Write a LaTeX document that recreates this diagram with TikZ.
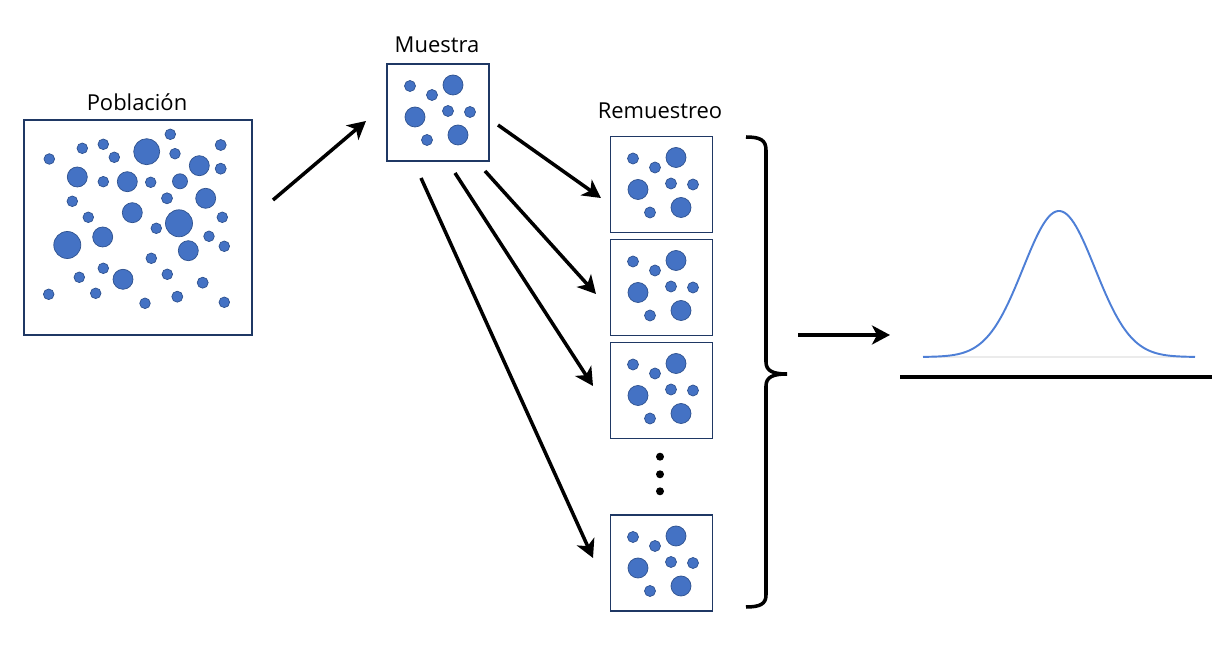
\documentclass[tikz,border=0pt]{standalone}
\usepackage{fontspec}
\setmainfont{Open Sans}
\usetikzlibrary{arrows.meta}

\definecolor{dotblue}{HTML}{4472C4}
\definecolor{dotedge}{HTML}{2F528F}
\definecolor{boxedge}{HTML}{1F3864}
\definecolor{bellblue}{HTML}{4E7FD6}

\tikzset{
  box/.style={draw=boxedge, line width=0.6pt, fill=white, inner sep=0pt},
  dot/.style={fill=dotblue, draw=dotedge, line width=0.4pt},
  label/.style={font=\fontsize{12.5}{14}\selectfont},
  arr/.style={line width=2pt, -{Stealth[length=0.36cm,width=0.38cm,inset=0.1cm]}}
}

\begin{document}
\begin{tikzpicture}[x=0.02cm, y=-0.02cm]
  \useasboundingbox (0,0) rectangle (1232,651);

  % Poblacion
  \node[box, minimum width=4.56cm, minimum height=4.3cm] (pop) at (138,227.5) {};
  \node[label] (poplabel) at (137,102) {Población};
  \foreach \cx/\cy/\r in {49.3/159/5.3, 82.3/148.3/5.3, 103.3/144.3/5.3, 114.3/157.3/5.3,
      146.7/151.7/13, 170.3/134.3/5.3, 175/153.7/5.3, 220.7/145/5.5, 199.3/165.7/10,
      220.7/168.7/5.5, 77.3/177/10, 103.3/181.7/5.3, 127.3/181.7/10, 150.7/182.3/5.3,
      180/181.3/7.5, 205.7/198.3/10, 72.3/201.3/5.3, 167/198.3/5.5, 132.3/212.7/10,
      88.3/217.3/5.3, 179/223.3/13.5, 222.3/217.3/5.3, 156.3/228.3/5.3, 102.7/237/10,
      67.3/245/13.5, 209/236.3/5.3, 224.3/246.3/5.3, 188.3/250.7/10, 151.3/258.3/5.3,
      103.3/268.3/5.3, 79.3/277.3/5.3, 123/279.3/10, 167.3/274.3/5.3, 202.7/282.7/5.5,
      48.7/294.3/5.3, 95.7/293.3/5.3, 145/303.3/5.3, 177.3/296.7/5.5, 224.3/302.3/5.3}
    \filldraw[dot] (\cx,\cy) circle (\r);

  % Muestra y remuestreos
  \node[box, minimum width=2.04cm, minimum height=1.94cm] (mue) at (438,112.5) {};
  \node[label] (muelabel) at (437,45) {Muestra};
  \node[box, minimum width=2.04cm, minimum height=1.92cm] (rem1) at (661.5,184.5) {};
  \node[box, minimum width=2.04cm, minimum height=1.92cm] (rem2) at (661.5,287.5) {};
  \node[box, minimum width=2.04cm, minimum height=1.92cm] (rem3) at (661.5,390.5) {};
  \node[box, minimum width=2.04cm, minimum height=1.92cm] (rem4) at (661.5,563) {};
  \node[label] (remlabel) at (660,111) {Remuestreo};
  \foreach \bx/\by in {387/64, 610/136.5, 610/239.5, 610/342.5, 610/515}
    \foreach \cx/\cy/\r in {23/22/5.5, 45/31/5.5, 66/21/10, 28/53/10,
        61/47/5.5, 83/48/5.5, 40/76/5.5, 71/71/10}
      \filldraw[dot] (\bx+\cx,\by+\cy) circle (\r);

  % puntos suspensivos
  \fill (660,456.7) circle (4);
  \fill (660,474.3) circle (4);
  \fill (660,491.3) circle (4);

  % flechas
  \coordinate (a0s) at (273,200);  \coordinate (a0e) at (366,121);
  \coordinate (a1s) at (498,125);  \coordinate (a1e) at (601,198);
  \coordinate (a2s) at (485,171);  \coordinate (a2e) at (596,294);
  \coordinate (a3s) at (455,173);  \coordinate (a3e) at (593,386);
  \coordinate (a4s) at (421,178);  \coordinate (a4e) at (593,558);
  \draw[arr] (a0s) -- (a0e);
  \draw[arr] (a1s) -- (a1e);
  \draw[arr] (a2s) -- (a2e);
  \draw[arr] (a3s) -- (a3e);
  \draw[arr] (a4s) -- (a4e);

  % llave
  \draw[line width=2pt] (746,137) .. controls (760,137) and (766,140) .. (766,150)
    -- (766,362) .. controls (766,371) and (773,374) .. (787,374)
    .. controls (773,374) and (766,377) .. (766,386)
    -- (766,595) .. controls (766,604) and (760,607) .. (746,607);

  \coordinate (a5s) at (798,335);  \coordinate (a5e) at (890,335);
  \draw[arr] (a5s) -- (a5e);

  % distribucion
  \draw[line width=2pt] (900,377) -- (1212,377);
  \draw[black!8, line width=0.6pt] (923,357) -- (1195,357);
  \draw[bellblue, line width=1.1pt, domain=923:1195, samples=120]
    plot (\x, {357-146*exp(-((\x-1059)/36)^2/2)});
\end{tikzpicture}
\end{document}
